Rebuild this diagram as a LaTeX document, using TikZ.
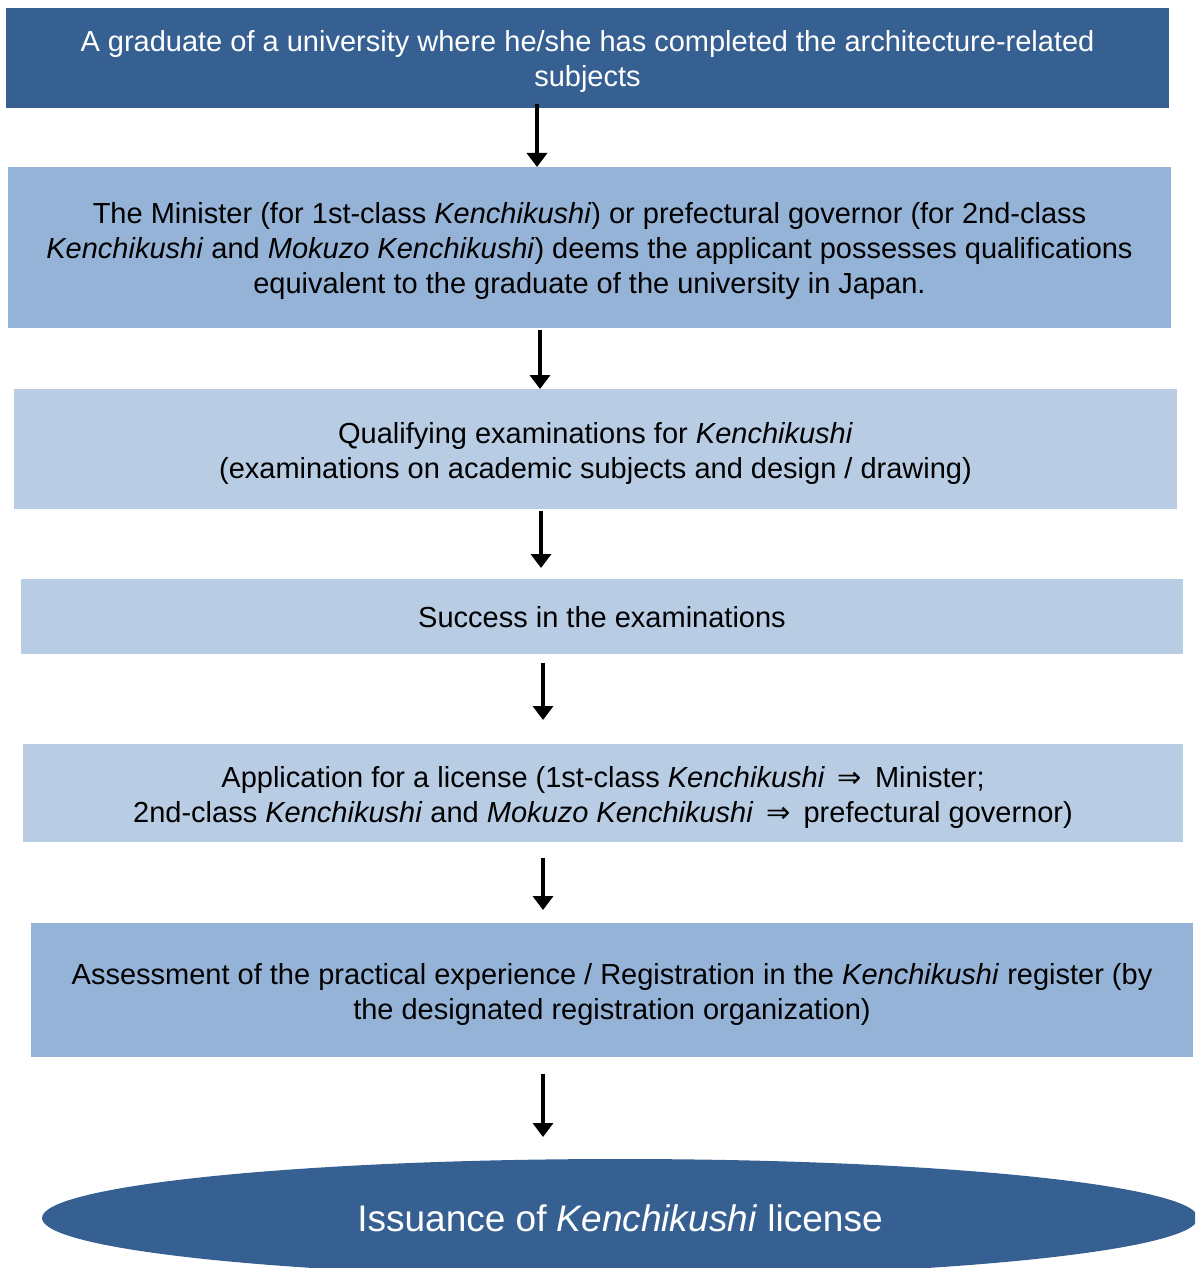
\documentclass[tikz,border=0pt]{standalone}
\usepackage{fontspec}
\setmainfont{Liberation Sans}
\newfontfamily\symfont{DejaVu Sans}
\usetikzlibrary{arrows.meta,shapes.geometric}
\definecolor{dkblue}{HTML}{376092}
\definecolor{midblue}{HTML}{95B3D7}
\definecolor{ltblue}{HTML}{B8CCE4}
\newcommand{\K}{\textit{Kenchikushi}}
\newcommand{\Arr}{\,{\symfont ⇒}\,}
\begin{document}
\begin{tikzpicture}[x=1pt,y=-1pt,
  box/.style={rectangle,inner sep=0pt},
  txt/.style={inner sep=0pt,align=center,font=\fontsize{29}{35}\selectfont},
  arr/.style={line width=4pt,-{Triangle[width=20pt,length=14pt]}}]
\useasboundingbox (0,0) rectangle (1195,1268);
\clip (0,0) rectangle (1195,1268);
\node[box,fill=dkblue,minimum width=1163pt,minimum height=100pt] (b1) at (587.5,58) {};
\node[box,fill=midblue,minimum width=1163pt,minimum height=161pt] (b2) at (589.5,247.5) {};
\node[box,fill=ltblue,minimum width=1163pt,minimum height=120pt] (b3) at (595.5,449) {};
\node[box,fill=ltblue,minimum width=1162pt,minimum height=75pt] (b4) at (602,616.5) {};
\node[box,fill=ltblue,minimum width=1160pt,minimum height=98pt] (b5) at (603,793) {};
\node[box,fill=midblue,minimum width=1162pt,minimum height=134pt] (b6) at (612,990) {};
\node[txt,text=white] (t1) at ([yshift=-4pt]b1.center)
  {A graduate of a university where he/she has completed the architecture-related\\subjects};
\node[txt] (t2) at ([yshift=-4pt]b2.center)
  {The Minister (for 1st-class \K) or prefectural governor (for 2nd-class\\
   \K{} and \textit{Mokuzo Kenchikushi}) deems the applicant possesses qualifications\\
   equivalent to the graduate of the university in Japan.};
\node[txt] (t3) at ([yshift=-4pt]b3.center)
  {Qualifying examinations for \K\\(examinations on academic subjects and design / drawing)};
\node[txt] (t4) at ([yshift=-1pt]b4.center) {Success in the examinations};
\node[txt] (t5) at ([yshift=-4pt]b5.center)
  {Application for a license (1st-class \K{} \Arr{} Minister;\\
   2nd-class \K{} and \textit{Mokuzo Kenchikushi} \Arr{} prefectural governor)};
\node[txt] (t6) at ([yshift=-4pt]b6.center)
  {Assessment of the practical experience / Registration in the \K{} register (by\\
   the designated registration organization)};
\node[ellipse,fill=dkblue,text=white,inner sep=0pt,minimum width=1156pt,minimum height=118pt,
  font=\fontsize{37}{44}\selectfont] (e) at (620,1218) {Issuance of \K{} license};
\coordinate (a1s) at (537,104); \coordinate (a1e) at (537,167);
\coordinate (a2s) at (540,330); \coordinate (a2e) at (540,389);
\coordinate (a3s) at (541,511); \coordinate (a3e) at (541,568);
\coordinate (a4s) at (543,663); \coordinate (a4e) at (543,720);
\coordinate (a5s) at (543,858); \coordinate (a5e) at (543,910);
\coordinate (a6s) at (543,1074); \coordinate (a6e) at (543,1137);
\draw[arr] (a1s) -- (a1e);
\draw[arr] (a2s) -- (a2e);
\draw[arr] (a3s) -- (a3e);
\draw[arr] (a4s) -- (a4e);
\draw[arr] (a5s) -- (a5e);
\draw[arr] (a6s) -- (a6e);
\end{tikzpicture}
\end{document}
